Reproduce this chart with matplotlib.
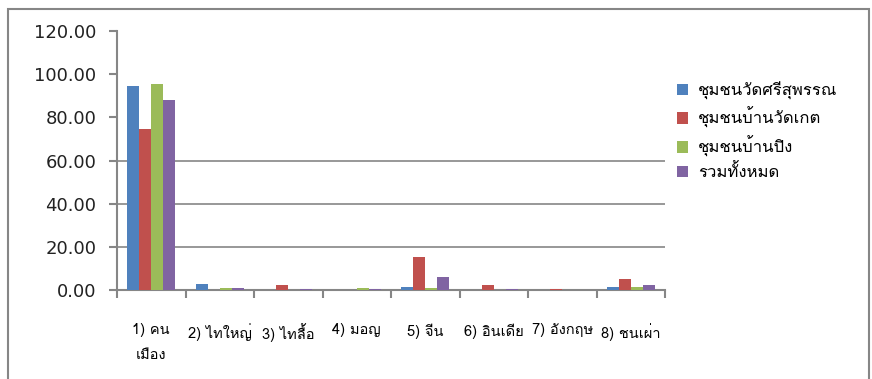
import numpy as np
import matplotlib
matplotlib.use("Agg")
import matplotlib.pyplot as plt
from matplotlib import font_manager
from matplotlib.ft2font import FT2Font
from matplotlib.patches import Rectangle

# data (percent)
categories = ["1) คน\nเมือง", "2) ไทใหญ่", "3) ไทลื้อ", "4) มอญ",
              "5) จีน", "6) อินเดีย", "7) อังกฤษ", "8) ชนเผ่า"]
series_names = ["ชุมชนวัดศรีสุพรรณ", "ชุมชนบ้านวัดเกต", "ชุมชนบ้านปิง", "รวมทั้งหมด"]
wat_srisuphan = [94.3, 2.8, 0.0, 0.0, 1.5, 0.0, 0.0, 1.4]
ban_wat_ket = [74.6, 0.0, 2.2, 0.0, 15.3, 2.2, 0.6, 5.1]
ban_ping = [95.6, 1.1, 0.0, 1.1, 1.1, 0.0, 0.0, 1.4]
total = [88.0, 1.1, 0.6, 0.3, 6.0, 0.6, 0.2, 2.3]
colors = ["#4F81BD", "#C0504D", "#9BBB59", "#8064A2"]

# find some installed font that has Thai glyphs
thai_font = None
for path in sorted(font_manager.findSystemFonts()):
    try:
        if 0x0E01 in FT2Font(path).get_charmap():
            thai_font = font_manager.FontProperties(fname=path).get_name()
            break
    except Exception:
        pass
fam = [thai_font, "DejaVu Sans"] if thai_font else ["DejaVu Sans"]
plt.rcParams['font.family'] = fam

fig = plt.figure(figsize=(8.72, 3.79), dpi=100)
fig.patches.append(Rectangle((8/872, -0.05), 861/872, 1 - 9/379 + 0.05,
                             transform=fig.transFigure, fill=False,
                             edgecolor="#868686", linewidth=1.5))
ax = fig.add_axes([117/872, 1 - 290/379, 548/872, 259/379])

x = np.arange(len(categories))
w = 0.175
data = [wat_srisuphan, ban_wat_ket, ban_ping, total]
for i, (vals, name) in enumerate(zip(data, series_names)):
    ax.bar(x + (i - 1.5) * w, vals, w, color=colors[i], label=name, zorder=3)

ax.set_xlim(-0.5, len(categories) - 0.5)
ax.set_ylim(0, 120)
ax.set_yticks(np.arange(0, 121, 20))
ax.set_yticklabels(["%.2f" % v for v in np.arange(0, 121, 20)], fontsize=13,
                   family="DejaVu Sans", color="#222222")
for g in (20, 40, 60):
    ax.axhline(g, color="#868686", linewidth=1.2, zorder=1)

ax.set_xticks(np.arange(-0.5, len(categories), 1.0))
ax.set_xticklabels([])
ax.set_xticks(x, minor=True)
ax.set_xticklabels(categories, minor=True, fontsize=10.5, linespacing=2.0,
                   va="top")
ax.tick_params(axis="x", which="minor", length=0, pad=24)
ax.tick_params(axis="x", which="major", length=6, width=1.5, color="#868686",
               direction="out")
ax.tick_params(axis="y", length=6, width=1.5, color="#868686", pad=9)

for s in ("top", "right"):
    ax.spines[s].set_visible(False)
for s in ("left", "bottom"):
    ax.spines[s].set_color("#868686")
    ax.spines[s].set_linewidth(1.5)
ax.set_facecolor("none")

ax.legend(loc="upper left", bbox_to_anchor=(1.0, 0.85), frameon=False,
          fontsize=12, handlelength=0.7, handleheight=0.7, labelspacing=0.45,
          handletextpad=0.6, borderpad=0.2)

fig.savefig("out.png", dpi=100)
